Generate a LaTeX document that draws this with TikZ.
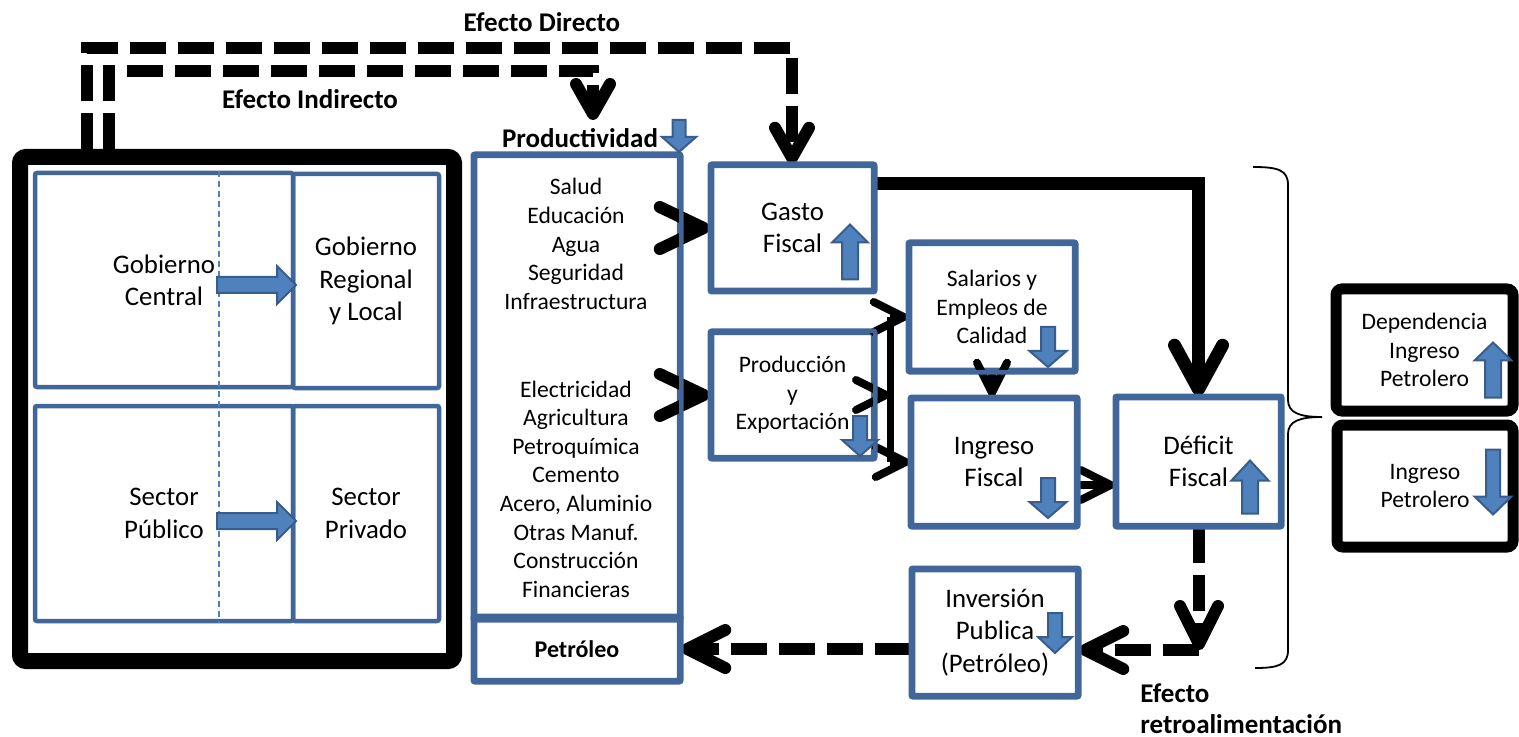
\documentclass[tikz,border=0pt]{standalone}
\usepackage{fontspec}
\setmainfont{Carlito}
\usetikzlibrary{arrows.meta}
\definecolor{boxblue}{HTML}{41679A}
\definecolor{arrfill}{HTML}{4F81BD}
\definecolor{arrline}{HTML}{385D8A}
\newcommand\BArrow[7]{%
  \begin{scope}[shift={(#1,#2)},rotate=#3]
    \draw[barrow] ({-(#4)/2},{-(#6)/2}) -- ({(#4)/2-(#7)},{-(#6)/2}) -- ({(#4)/2-(#7)},{-(#5)/2}) -- ({(#4)/2},0) -- ({(#4)/2-(#7)},{(#5)/2}) -- ({(#4)/2-(#7)},{(#6)/2}) -- ({-(#4)/2},{(#6)/2}) -- cycle;
  \end{scope}}
\tikzset{
  bbox/.style={draw=boxblue, line width=2.25pt, rounded corners=1pt, inner sep=0pt, align=center},
  kbox/.style={draw=black, rounded corners=3pt, inner sep=0pt, align=center},
  bigtxt/.style={font=\fontsize{13.4}{16.2}\selectfont},
  smtxt/.style={font=\fontsize{11.8}{14.3}\selectfont},
  lbl/.style={font=\bfseries\fontsize{13.5}{15.5}\selectfont, inner sep=0pt, align=center},
  barrow/.style={fill=arrfill, draw=arrline, line width=1pt},
  dashline/.style={line width=6pt, dash pattern=on 18pt off 6pt},
  bigarrow/.style={line width=6pt, -{Straight Barb[round, length=22pt, width=21pt]}},
  dasharrow/.style={dashline, -{Straight Barb[round, length=19pt, width=19pt]}},
  toparrow/.style={dashline, -{Straight Barb[round, length=15pt, width=17pt]}},
  solidarrow/.style={line width=6.5pt, -{Straight Barb[round, length=22pt, width=24pt]}},
  smarrow/.style={line width=4pt, -{Straight Barb[round, length=15pt, width=15pt]}},
  barline/.style={line width=3.5pt},
  thindash/.style={draw=arrfill, line width=0.7pt, dash pattern=on 3pt off 2pt},
  brace/.style={line width=0.9pt}
}
\begin{document}
\begin{tikzpicture}[x=0.5pt,y=-0.5pt]
\useasboundingbox (0,0) rectangle (1519,737);

% ---------- nodes (geometry) ----------
\node[kbox, line width=8pt, minimum width=217pt, minimum height=252pt] (L) at (237,409) {};
\node[bbox, bigtxt, minimum width=129pt, minimum height=107pt] (c1) at (164,280) {Gobierno\\Central};
\node[bbox, bigtxt, minimum width=73pt, minimum height=107pt] (c2) at (366,281) {Gobierno\\Regional\\y Local};
\node[bbox, bigtxt, minimum width=129pt, minimum height=107.5pt] (c3) at (164,513.5) {Sector\\Público};
\node[bbox, bigtxt, minimum width=73pt, minimum height=107.5pt] (c4) at (366,513.5) {Sector\\Privado};

\node[bbox, minimum width=102pt, minimum height=231pt] (colTop) at (577,387) {};
\node[bbox, minimum width=102pt, minimum height=31pt, font=\bfseries\fontsize{12}{14}\selectfont] (petro) at (577,649) {Petróleo};
\node[smtxt, align=center, inner sep=0pt] (grp1) at (576,244) {Salud\\Educación\\Agua\\Seguridad\\Infraestructura};
\node[smtxt, align=center, inner sep=0pt] (grp2) at (576,489) {Electricidad\\Agricultura\\Petroquímica\\Cemento\\Acero, Aluminio\\Otras Manuf.\\Construcción\\Financieras};

\node[bbox, bigtxt, minimum width=80.5pt, minimum height=62pt] (gasto) at (792.5,228) {Gasto\\Fiscal};
\node[bbox, smtxt, minimum width=80.5pt, minimum height=62pt] (prod) at (792.5,395) {Producción\\y\\Exportación};
\node[bbox, smtxt, minimum width=82pt, minimum height=63pt] (sal) at (992,307) {Salarios y\\Empleos de\\Calidad};
\node[bbox, bigtxt, minimum width=82pt, minimum height=63pt] (ing) at (994,462) {Ingreso\\Fiscal};
\node[bbox, bigtxt, minimum width=81.5pt, minimum height=63.5pt] (def) at (1198.5,461.5) {Déficit\\Fiscal};
\node[bbox, bigtxt, minimum width=82pt, minimum height=62.5pt] (inv) at (995,632.5) {Inversión\\Publica\\(Petróleo)};

\node[kbox, smtxt, line width=5.5pt, minimum width=88.5pt, minimum height=61pt] (dep) at (1424.5,350) {Dependencia\\Ingreso\\Petrolero};
\node[kbox, smtxt, line width=5.5pt, minimum width=88pt, minimum height=61pt] (ingp) at (1425,486) {Ingreso\\Petrolero};

% ---------- labels ----------
\node[lbl] (lDir) at (542,22) {Efecto Directo};
\node[lbl] (lInd) at (310,99) {Efecto Indirecto};
\node[lbl] (lProd) at (580,138) {Productividad};
\node[lbl, align=left, anchor=west] (lRet) at (1140,708.5) {Efecto\\retroalimentación};

% ---------- thin dashed divider ----------
\coordinate (dl) at (219,0);
\draw[thindash] (c1.north -| dl) -- (c3.south -| dl);

% ---------- connectors ----------
\coordinate (d1) at (87,48);
\coordinate (d2) at (792,48);
\draw[toparrow] (L.north -| d1) -- (d1) -- (d2) -- (gasto.north -| d2);
\coordinate (i1) at (109,71);
\coordinate (i2) at (593,71);
\draw[toparrow] (L.north -| i1) -- (i1) -- (i2) -- ([yshift=4pt]lProd.north -| i2);

\draw[bigarrow] (colTop.east |- gasto.west) -- (gasto.west);
\draw[bigarrow] (colTop.east |- prod.west) -- (prod.west);

\coordinate (bT) at (890,317);
\draw[barline] (bT) -- (bT |- ing.west);
\draw[smarrow] (prod.east) -- (prod.east -| bT);
\draw[smarrow] (bT) -- (sal.west |- bT);
\draw[smarrow] (bT |- ing.west) -- (ing.west);
\draw[smarrow] (sal.south) -- (sal.south |- ing.north);
\coordinate (idy) at (0,485);
\draw[smarrow] (ing.east |- idy) -- (def.west |- idy);

\coordinate (gd) at (1198,184);
\draw[solidarrow] (gasto.east |- gd) -| (def.north);

\coordinate (fb) at (1199,650);
\draw[dasharrow] (def.south -| fb) -- (fb);
\draw[dasharrow] (fb) -- (inv.east |- fb);
\draw[dasharrow] (inv.west |- petro.east) -- (petro.east);

% ---------- brace ----------
\draw[brace] (1253,167) .. controls (1278,167) and (1288,170) .. (1288,185) -- (1288,400)
  .. controls (1288,413) and (1300,417) .. (1322,417)
  .. controls (1300,417) and (1288,421) .. (1288,434) -- (1288,650)
  .. controls (1288,665) and (1278,668) .. (1255,668);

% ---------- redraw box borders on top of arrows ----------
\foreach \n in {colTop,petro,gasto,prod,sal,ing,def,inv}{
  \draw[boxblue, line width=2.25pt, rounded corners=1pt] (\n.north west) rectangle (\n.south east);
}

% ---------- block arrows ----------
\BArrow{256.5}{285}{0}{79}{38}{16}{19}
\BArrow{256.5}{521}{0}{79}{38}{16}{19}
\BArrow{679}{136}{-90}{32}{34}{13}{15}
\BArrow{850}{252}{90}{55}{36}{16}{18}
\BArrow{860}{436}{-90}{40}{36}{14}{16}
\BArrow{1048}{347}{-90}{40}{37}{14}{16}
\BArrow{1048}{498}{-90}{40}{37}{14}{16}
\BArrow{1250}{487}{90}{53}{37}{16}{20}
\BArrow{1055}{633}{-90}{40}{34}{14}{16}
\BArrow{1493}{370}{90}{55}{37}{16}{18}
\BArrow{1493}{482}{-90}{65}{37}{14}{18}
\end{tikzpicture}
\end{document}
